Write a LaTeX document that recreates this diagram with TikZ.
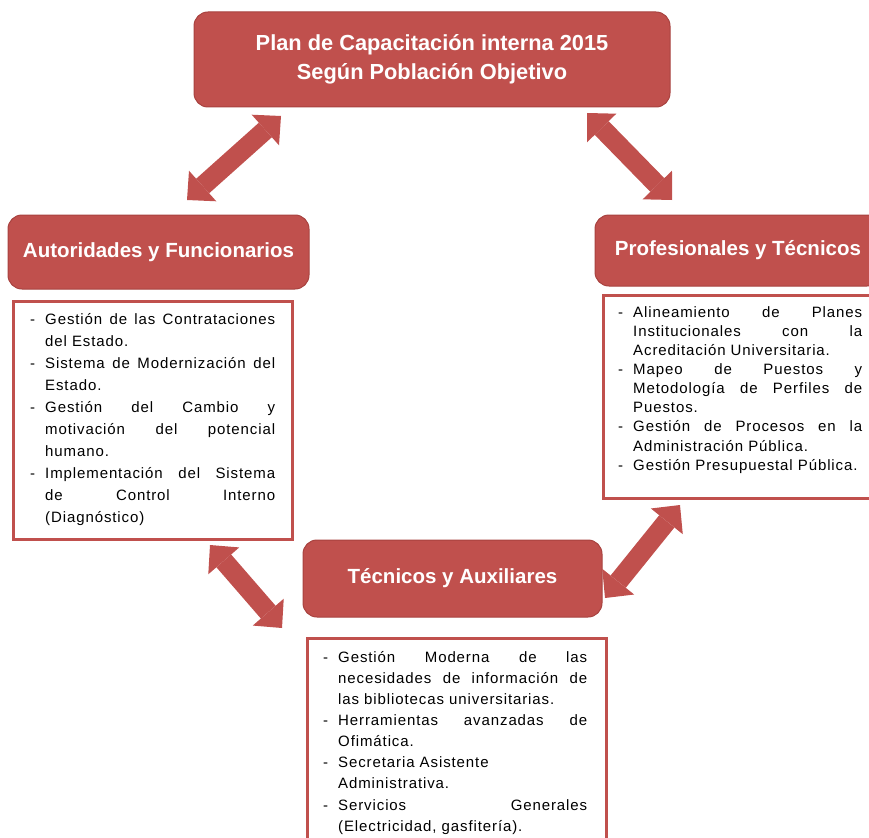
\documentclass[tikz,border=0pt]{standalone}
\usepackage{fontspec}
\setmainfont{Liberation Sans}
\newfontfamily\listfont[LetterSpace=6]{Liberation Sans}
\usetikzlibrary{arrows.meta}

\definecolor{boxred}{HTML}{C0504D}
\definecolor{edgered}{HTML}{A8423F}

% one bullet item: a hanging dash followed by the text
\newcommand\dashitem{\par\noindent\rule{0pt}{12pt}\llap{-\hspace{10pt}}}

\tikzset{
  Tri/.tip={Triangle[length=21pt,width=41pt,line width=0pt]},
  headbox/.style={fill=boxred, draw=edgered, line width=1pt, rounded corners=14pt,
    text=white, inner sep=0pt, font=\bfseries\fontsize{20.5}{24}\selectfont},
  listframe/.style={draw=boxred, line width=2.5pt, fill=white, inner sep=0pt},
  listtext/.style={anchor=north west, inner sep=0pt, align=justify},
  duo/.style={draw=boxred, line width=19.5pt, line cap=butt, arrows={Tri-Tri}}
}

\begin{document}
\begin{tikzpicture}[x=1pt,y=-1pt]
\path[use as bounding box] (0,0) rectangle (869,837);
\clip (0,0) rectangle (869,837);

% title
\node[headbox, minimum width=476pt, minimum height=95pt, align=center,
      font=\bfseries\fontsize{21.8}{29}\selectfont] (plan) at (432,59.5)
  {Plan de Capacitación interna 2015\\Según Población Objetivo};

% group headers
\node[headbox, minimum width=301pt, minimum height=74pt] (auto) at (158.5,252)
  {Autoridades y Funcionarios};
\node[headbox, minimum width=286pt, minimum height=71pt] (prof) at (738,250.5)
  {Profesionales y Técnicos};
\node[headbox, minimum width=299pt, minimum height=77pt] (tec) at (452.5,578.5)
  {Técnicos y Auxiliares};

% course frames
\node[listframe, anchor=north west, minimum width=279pt, minimum height=238pt] (autolist) at (12,300) {};
\node[listframe, anchor=north west, minimum width=288pt, minimum height=203pt] (proflist) at (602,294) {};
\node[listframe, anchor=north west, minimum width=299pt, minimum height=223pt] (teclist) at (306,637) {};

% course lists
\node[listtext, text width=230pt, font=\listfont\fontsize{15}{22}\selectfont] (autotext) at (45,302) {%
  \dashitem Gestión de las Contrataciones\linebreak del Estado.
  \dashitem Sistema de Modernización del\linebreak Estado.
  \dashitem Gestión del Cambio y\linebreak motivación del potencial\linebreak humano.
  \dashitem Implementación del Sistema\linebreak de Control Interno\linebreak (Diagnóstico)\par};

\node[listtext, text width=229pt, font=\listfont\fontsize{15}{19.1}\selectfont] (proftext) at (633,298) {%
  \dashitem Alineamiento de Planes\linebreak Institucionales con la\linebreak Acreditación Universitaria.
  \dashitem Mapeo de Puestos y\linebreak Metodología de Perfiles de\linebreak Puestos.
  \dashitem Gestión de Procesos en la\linebreak Administración Pública.
  \dashitem Gestión Presupuestal Pública.\par};

\node[listtext, text width=249pt, font=\listfont\fontsize{15}{21.1}\selectfont] (tectext) at (338,641) {%
  \dashitem Gestión Moderna de las\linebreak necesidades de información de\linebreak las bibliotecas universitarias.
  \dashitem Herramientas avanzadas de\linebreak Ofimática.
  \dashitem Secretaria Asistente\newline Administrativa.
  \dashitem Servicios Generales\linebreak (Electricidad, gasfitería).\par};

% two-way arrows between the title and the groups
\coordinate (planL) at (281,116);
\coordinate (autoT) at (187,200);
\coordinate (planR) at (587,113);
\coordinate (profT) at (672,200);
\coordinate (autoB) at (210,545);
\coordinate (tecL)  at (282,628);
\coordinate (profB) at (680,505);
\coordinate (tecR)  at (605,598);

\draw[duo] (autoT) -- (planL);
\draw[duo] (planR) -- (profT);
\draw[duo] (autoB) -- (tecL);
\draw[duo] (tecR) -- (profB);
\end{tikzpicture}
\end{document}
